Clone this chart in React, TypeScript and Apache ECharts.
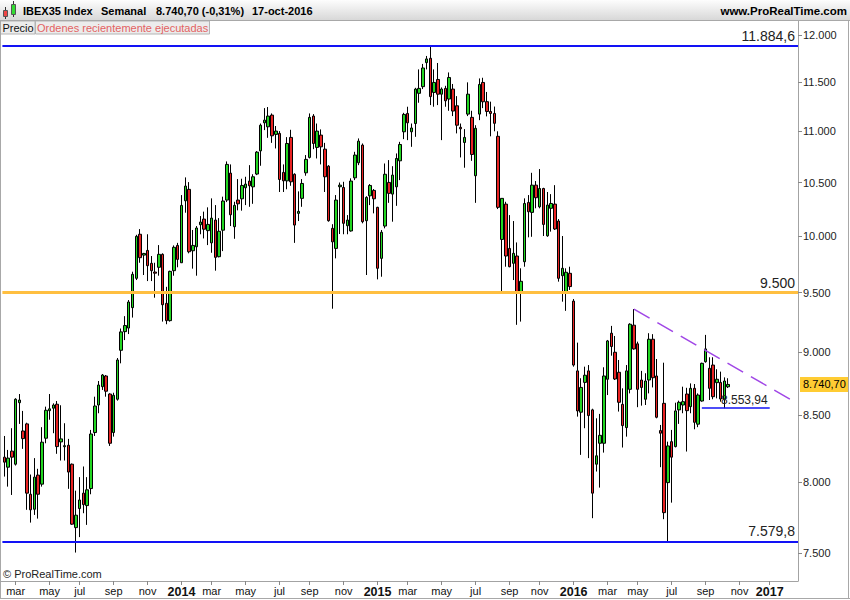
import React, { useEffect, useRef } from 'react';
import * as echarts from 'echarts';

// ---- axis domain ----
const FIRST_WEEK = '2013-02-11';
const TOTAL_WEEKS = 211; // includes empty weeks up to Feb 2017
const MONTHS_ES = ['ene', 'feb', 'mar', 'abr', 'may', 'jun', 'jul', 'ago', 'sep', 'oct', 'nov', 'dic'];
const Y_TICKS = [7500, 8000, 8500, 9000, 9500, 10000, 10500, 11000, 11500, 12000];
const Y_MIN = 7311.7;
const Y_MAX = 12170;

// ---- weekly OHLC (IBEX35) ----
const OPEN = [
  8182, 8108, 8227, 8130, 8597, 8379, 8433, 7911, 7804, 8050, 7984, 8324, 8535, 8554, 8585, 8296, 8260, 8271, 8130, 7675,
  7809, 7919, 7830, 7952, 8367, 8579, 8723, 8808, 8665, 8367, 8624, 9016, 9170, 9200, 9372, 9625, 10018, 9830, 9872, 9757,
  9680, 9722, 9837, 9409, 9262, 9692, 9917, 9762, 10327, 10435, 9869, 9905, 10105, 10157, 10051, 9940, 10148, 9816, 10055, 10334,
  10590, 10087, 10334, 10346, 10450, 10514, 10459, 10581, 10806, 11085, 11045, 11163, 10969, 10979, 10597, 10516, 10939, 10579, 10210, 10350,
  10593, 10742, 11153, 10840, 10962, 10823, 10657, 10072, 9890, 10460, 10453, 10096, 10048, 10545, 10690, 10863, 10142, 10374, 10425, 10266,
  9801, 10093, 10501, 10390, 10459, 10709, 10995, 11180, 10995, 11078, 11386, 11455, 11708, 11754, 11395, 11530, 11377, 11437, 11327, 11430,
  11258, 11040, 10889, 11173, 11140, 10565, 11173, 11499, 11300, 11200, 11180, 10950, 9971, 10296, 9890, 9757, 9822, 9509, 9771, 10312,
  10219, 10475, 10271, 10443, 10004, 10257, 10296, 10139, 9648, 9509, 9669, 9428, 8849, 8523, 8757, 8849, 8541, 8130, 8286, 8286,
  8782, 9157, 9000, 8838, 8584, 8405, 8702, 9224, 9069, 8776, 8624, 8776, 9107, 8808, 8382, 8592, 7995, 8298, 8261, 8541,
  8579, 8665, 8566, 8710, 8431, 8610, 8923, 8870, 8896, 8755, 8757, 8626, 8722,
];
const HIGH = [
  8341, 8236, 8400, 8632, 8665, 8533, 8442, 8054, 8175, 8096, 8408, 8566, 8665, 8592, 8610, 8577, 8438, 8319, 8135, 7937,
  8035, 8113, 8035, 8387, 8644, 8768, 8824, 8816, 8671, 8675, 8953, 9196, 9300, 9437, 9683, 10013, 10065, 9850, 10018, 9822,
  9762, 9920, 9846, 9551, 9692, 9917, 9940, 10381, 10549, 10504, 10057, 10093, 10185, 10226, 10266, 10350, 10287, 10166, 10366, 10703,
  10674, 10318, 10533, 10536, 10555, 10667, 10579, 10804, 11078, 11234, 11245, 11180, 11053, 11002, 10674, 10942, 11015, 10588, 10416, 10533,
  10765, 11180, 11173, 11078, 11019, 10885, 10667, 10110, 10381, 10500, 10507, 10194, 10540, 10797, 10929, 10879, 10370, 10485, 10438, 10271,
  10057, 10683, 10716, 10657, 10781, 10895, 11186, 11248, 11078, 11443, 11636, 11694, 11779, 11884.6, 11636, 11704, 11447, 11464, 11604, 11483,
  11357, 11078, 11022, 11500, 11207, 11061, 11541, 11548, 11400, 11300, 11250, 11000, 10350, 10318, 10194, 10139, 9944, 9713, 10350, 10381,
  10593, 10514, 10629, 10450, 10410, 10390, 10475, 10157, 10002, 9713, 9727, 9446, 9079, 8790, 8883, 8896, 8550, 8476, 8510, 8878,
  9101, 9218, 9134, 8937, 8710, 8896, 9240, 9360, 9087, 8849, 8830, 9157, 9149, 8945, 8425, 8915, 8298, 8387, 8597, 8613,
  8723, 8714, 8749, 8744, 8670, 8915, 9143, 8959, 8959, 8862, 8843, 8797, 8790,
];
const LOW = [
  8039, 7966, 7906, 8120, 8433, 8244, 7800, 7710, 7764, 7738, 7966, 8286, 8465, 8362, 8207, 8157, 8157, 7950, 7694, 7503,
  7609, 7776, 7694, 7911, 8341, 8515, 8697, 8644, 8266, 8336, 8613, 8910, 9100, 9150, 9288, 9610, 9762, 9654, 9601, 9601,
  9457, 9648, 9254, 9232, 9254, 9648, 9722, 9760, 10216, 9846, 9710, 9648, 10018, 9980, 9920, 9851, 9692, 9810, 9866, 10315,
  10093, 9977, 10238, 10235, 10287, 10271, 10299, 10571, 10661, 11012, 10935, 10885, 10830, 10410, 10410, 10436, 10469, 9940, 10139, 10271,
  10565, 10732, 10823, 10732, 10674, 10410, 10133, 9363, 9801, 10020, 10018, 10018, 10042, 10523, 10667, 10118, 9654, 10287, 10210, 9616,
  9639, 10072, 10308, 10133, 10280, 10523, 10922, 10912, 10846, 10945, 11289, 11430, 11636, 11265, 11248, 11265, 10912, 11248, 11207, 11153,
  10979, 10742, 10642, 11153, 10709, 10308, 11112, 11234, 11150, 10950, 11000, 10250, 9509, 9727, 9722, 9610, 9227, 9254, 9727, 9990,
  9995, 10257, 10257, 10002, 9995, 10042, 10057, 9596, 9423, 9345, 9524, 8883, 8489, 8199, 8400, 8175, 7741, 8076, 7959, 8216,
  8657, 8972, 8776, 8528, 8254, 8336, 8670, 9021, 8562, 8574, 8579, 8670, 8717, 8476, 8108, 7734, 7580, 7851, 8255, 8433,
  8515, 8224, 8515, 8392, 8408, 8605, 8915, 8618, 8624, 8631, 8605, 8554, 8712,
];
const CLOSE = [
  8145, 8175, 8182, 8624, 8618, 8321, 7919, 7800, 8035, 7911, 8294, 8538, 8549, 8579, 8261, 8319, 8268, 8072, 7699, 7762,
  7870, 7837, 7943, 8356, 8571, 8736, 8816, 8687, 8286, 8655, 8937, 9168, 9221, 9420, 9660, 9999, 9807, 9845, 9736, 9692,
  9670, 9837, 9397, 9262, 9686, 9900, 9792, 10284, 10466, 9860, 9917, 10075, 10130, 10064, 10108, 10166, 9810, 10045, 10325, 10674,
  10197, 10284, 10299, 10472, 10485, 10469, 10555, 10794, 11061, 11112, 11153, 10955, 11002, 10529, 10516, 10879, 10507, 10102, 10228, 10491,
  10723, 11140, 10879, 11002, 10846, 10555, 10142, 9949, 10334, 10475, 10118, 10148, 10514, 10765, 10902, 10133, 10359, 10472, 10346, 9713,
  10036, 10579, 10397, 10571, 10732, 10869, 11170, 11085, 11033, 11430, 11437, 11651, 11747, 11352, 11499, 11377, 11430, 11309, 11551, 11204,
  11061, 11025, 10939, 11377, 10771, 11030, 11478, 11299, 11200, 11180, 11080, 10266, 10350, 9822, 9727, 9846, 9509, 9599, 10302, 10225,
  10475, 10356, 10443, 10108, 10287, 10302, 10066, 9625, 9713, 9678, 9553, 8896, 8533, 8717, 8814, 8497, 7919, 8192, 8346, 8808,
  9093, 9047, 8784, 8600, 8420, 8849, 9232, 9027, 8702, 8717, 8768, 9107, 8794, 8484, 8362, 7780, 8266, 8182, 8533, 8600,
  8605, 8535, 8710, 8445, 8657, 8910, 9027, 8710, 8644, 8782, 8626, 8768, 8740.7,
];

// ---- drawn levels ----
const LEVEL_TOP = 11884.6;
const LEVEL_MID = 9500;
const LEVEL_BOTTOM = 7579.8;
const SUPPORT = 8553.94;
const SUPPORT_FROM = 185;
const SUPPORT_TO = 203;
const LAST_PRICE = 8740.7;
const TREND_FROM = [167, 9360];
const TREND_TO = [209, 8614];

const FONT = "'Liberation Sans', Arial, sans-serif";
const ln = Math.log;

function fmtNum(v: number, dec: number): string {
  const [i, f] = v.toFixed(dec).split('.');
  const intPart = i.replace(/\B(?=(\d{3})+(?!\d))/g, '.');
  return f ? intPart + ',' + f : intPart;
}

const WEEKS: string[] = [];
const LABEL_FLAGS: boolean[] = [];
(() => {
  const t0 = Date.parse(FIRST_WEEK + 'T00:00:00Z');
  for (let i = 0; i < TOTAL_WEEKS; i++) {
    const d = new Date(t0 + i * 7 * 86400000);
    const p = new Date(t0 + (i - 1) * 7 * 86400000);
    WEEKS.push(d.toISOString().slice(0, 10));
    const m = d.getUTCMonth();
    LABEL_FLAGS.push(m !== p.getUTCMonth() && m % 2 === 0);
  }
})();

export default function App() {
  const ref = useRef<HTMLDivElement>(null);
  useEffect(() => {
    const chart = echarts.init(ref.current!, null, { renderer: 'svg' });
    const candles = OPEN.map((o, i) => [ln(o), ln(CLOSE[i]), ln(LOW[i]), ln(HIGH[i])]);
    const tickVals = Y_TICKS.map(ln);
    const option: any = {
      animation: false,
      backgroundColor: '#ffffff',
      grid: { left: 2.4, right: 52, top: 20, bottom: 19, show: false },
      xAxis: {
        type: 'category',
        data: WEEKS,
        boundaryGap: true,
        axisLine: { show: true, onZero: false, lineStyle: { color: '#a3a3a3', width: 1 } },
        axisTick: {
          show: true,
          alignWithLabel: true,
          length: 4,
          interval: (idx: number) => LABEL_FLAGS[idx],
          lineStyle: { color: '#888888' },
        },
        axisLabel: {
          interval: (idx: number) => LABEL_FLAGS[idx],
          hideOverlap: false,
          margin: 4,
          color: '#111111',
          fontSize: 11,
          fontFamily: FONT,
          formatter: (v: string) => {
            const d = new Date(v + 'T00:00:00Z');
            const m = d.getUTCMonth();
            return m === 0 ? '{y|' + d.getUTCFullYear() + '}' : MONTHS_ES[m];
          },
          rich: { y: { fontWeight: 'bold', fontSize: 12.5, fontFamily: FONT, color: '#111111' } },
        },
        splitLine: { show: false },
      },
      yAxis: {
        type: 'value',
        position: 'right',
        min: ln(Y_MIN),
        max: ln(Y_MAX),
        axisLine: { show: true, lineStyle: { color: '#a3a3a3' } },
        axisTick: { show: true, length: 4, customValues: tickVals, lineStyle: { color: '#888888' } },
        axisLabel: {
          customValues: tickVals,
          margin: 5,
          color: '#222222',
          fontSize: 11,
          fontFamily: FONT,
          formatter: (v: number) => fmtNum(Math.round(Math.exp(v)), 0),
        },
        splitLine: { show: false },
      },
      series: [
        {
          type: 'candlestick',
          data: candles,
          barWidth: 3,
          itemStyle: {
            color: '#22d622',
            color0: '#e82323',
            borderColor: '#000000',
            borderColor0: '#000000',
            borderColorDoji: '#000000',
            borderWidth: 1,
          },
          markLine: {
            silent: true,
            precision: 12,
            symbol: ['none', 'none'],
            animation: false,
            data: [
              {
                yAxis: ln(LEVEL_TOP),
                lineStyle: { color: '#1212f5', width: 2, type: 'solid' },
                label: { show: true, position: 'insideEndTop', distance: 3, formatter: fmtNum(LEVEL_TOP, 1), color: '#222', fontSize: 14, fontFamily: FONT },
              },
              {
                yAxis: ln(LEVEL_MID),
                lineStyle: { color: '#ffbf40', width: 3, type: 'solid' },
                label: { show: true, position: 'insideEndTop', distance: 3, formatter: fmtNum(LEVEL_MID, 0), color: '#222', fontSize: 14, fontFamily: FONT },
              },
              {
                yAxis: ln(LEVEL_BOTTOM),
                lineStyle: { color: '#1212f5', width: 2, type: 'solid' },
                label: { show: true, position: 'insideEndTop', distance: 3, formatter: fmtNum(LEVEL_BOTTOM, 1), color: '#222', fontSize: 14, fontFamily: FONT },
              },
              [
                {
                  coord: [WEEKS[SUPPORT_FROM], ln(SUPPORT)],
                  lineStyle: { color: '#1212f5', width: 1.5, type: 'solid' },
                  label: { show: true, position: 'insideEndTop', distance: 2, formatter: fmtNum(SUPPORT, 2), color: '#222', fontSize: 12, fontFamily: FONT },
                },
                { coord: [WEEKS[SUPPORT_TO], ln(SUPPORT)] },
              ],
              [
                {
                  coord: [WEEKS[TREND_FROM[0]], ln(TREND_FROM[1])],
                  lineStyle: { color: '#a046e6', width: 1.5, type: [18, 9] },
                  label: { show: false },
                },
                { coord: [WEEKS[TREND_TO[0]], ln(TREND_TO[1])] },
              ],
              {
                yAxis: ln(LAST_PRICE),
                lineStyle: { color: 'rgba(0,0,0,0)', width: 1, opacity: 1 },
                label: {
                  show: true,
                  opacity: 1,
                  position: 'end',
                  distance: 2,
                  formatter: fmtNum(LAST_PRICE, 2),
                  color: '#000',
                  fontSize: 11,
                  fontFamily: FONT,
                  backgroundColor: '#ffcc33',
                  padding: [2, 3, 2, 3],
                },
              },
            ],
          },
        },
      ],
      graphic: [
        {
          type: 'rect', z: 100,
          shape: { x: 0, y: 0, width: 850, height: 20 },
          style: {
            fill: new echarts.graphic.LinearGradient(0, 0, 0, 1, [
              { offset: 0, color: '#fdfdfd' },
              { offset: 1, color: '#d8d8d8' },
            ]),
          },
        },
        { type: 'line', z: 101, shape: { x1: 0, y1: 20.5, x2: 850, y2: 20.5 }, style: { stroke: '#a8a8a8', lineWidth: 1 } },
        // icon
        { type: 'line', z: 101, shape: { x1: 5.5, y1: 7, x2: 5.5, y2: 19 }, style: { stroke: '#333', lineWidth: 1 } },
        { type: 'rect', z: 102, shape: { x: 3.5, y: 10.5, width: 4, height: 6 }, style: { fill: '#ee4444', stroke: '#555', lineWidth: 1 } },
        { type: 'line', z: 101, shape: { x1: 13.5, y1: 1, x2: 13.5, y2: 17 }, style: { stroke: '#333', lineWidth: 1 } },
        { type: 'rect', z: 102, shape: { x: 11.5, y: 4.5, width: 4, height: 10 }, style: { fill: '#33dd33', stroke: '#555', lineWidth: 1 } },
        // header texts
        { type: 'text', z: 101, style: { text: 'IBEX35 Index', x: 23, y: 11, verticalAlign: 'middle', fontSize: 11, fontWeight: 'bold', fontFamily: FONT, fill: '#000' } },
        { type: 'text', z: 101, style: { text: 'Semanal', x: 101, y: 11, verticalAlign: 'middle', fontSize: 11, fontWeight: 'bold', fontFamily: FONT, fill: '#000' } },
        { type: 'text', z: 101, style: { text: '8.740,70 (-0,31%)', x: 156, y: 11, verticalAlign: 'middle', fontSize: 11, fontWeight: 'bold', fontFamily: FONT, fill: '#000' } },
        { type: 'text', z: 101, style: { text: '17-oct-2016', x: 252, y: 11, verticalAlign: 'middle', fontSize: 11, fontWeight: 'bold', fontFamily: FONT, fill: '#000' } },
        { type: 'text', z: 101, style: { text: 'www.ProRealTime.com', x: 847, y: 11, align: 'right', verticalAlign: 'middle', fontSize: 11.5, fontWeight: 'bold', fontFamily: FONT, fill: '#000' } },
        // tabs
        { type: 'rect', z: 100, shape: { x: 0.5, y: 21, width: 34.5, height: 13 }, style: { fill: '#ececec', stroke: '#b4b4b4', lineWidth: 1 } },
        { type: 'text', z: 101, style: { text: 'Precio', x: 2.5, y: 28, verticalAlign: 'middle', fontSize: 11, fontFamily: FONT, fill: '#111' } },
        { type: 'rect', z: 100, shape: { x: 35.5, y: 21, width: 174, height: 13 }, style: { fill: '#ececec', stroke: '#b4b4b4', lineWidth: 1 } },
        { type: 'text', z: 101, style: { text: 'Ordenes recientemente ejecutadas', x: 37, y: 28, verticalAlign: 'middle', fontSize: 11, fontFamily: FONT, fill: '#e36262' } },
        // copyright
        { type: 'text', z: 101, style: { text: '© ProRealTime.com', x: 3, y: 574, verticalAlign: 'middle', fontSize: 11, fontFamily: FONT, fill: '#222' } },
        // frame
        { type: 'line', z: 101, shape: { x1: 0.5, y1: 20, x2: 0.5, y2: 599 }, style: { stroke: '#a8a8a8', lineWidth: 1 } },
        { type: 'line', z: 101, shape: { x1: 0, y1: 598.5, x2: 850, y2: 598.5 }, style: { stroke: '#a8a8a8', lineWidth: 1 } },
        { type: 'line', z: 101, shape: { x1: 848.5, y1: 20, x2: 848.5, y2: 599 }, style: { stroke: '#a8a8a8', lineWidth: 1 } },
        { type: 'line', z: 101, shape: { x1: 0, y1: 581.5, x2: 3, y2: 581.5 }, style: { stroke: '#a3a3a3', lineWidth: 1 } },
      ],
    };
    chart.setOption(option);
    return () => chart.dispose();
  }, []);
  return <div ref={ref} style={{ position: 'fixed', left: 0, top: 0, width: 850, height: 600 }} />;
}
